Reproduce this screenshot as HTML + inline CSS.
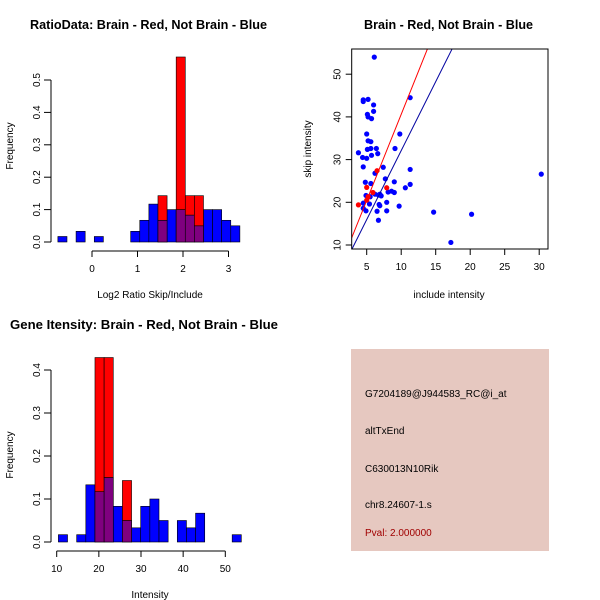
<!DOCTYPE html>
<html><head><meta charset="utf-8"><style>
body{margin:0;background:#fff}
svg{display:block;font-family:"Liberation Sans",sans-serif}
</style></head><body>
<svg id="c" width="600" height="600" viewBox="0 0 600 600" xmlns="http://www.w3.org/2000/svg">
<text x="30" y="29" font-size="12.5" font-weight="bold" textLength="237" lengthAdjust="spacingAndGlyphs">RatioData: Brain - Red, Not Brain - Blue</text>
<text x="364" y="29" font-size="12.5" font-weight="bold" textLength="169" lengthAdjust="spacingAndGlyphs">Brain - Red, Not Brain - Blue</text>
<text x="10" y="329" font-size="12.5" font-weight="bold" textLength="268" lengthAdjust="spacingAndGlyphs">Gene Itensity: Brain - Red, Not Brain - Blue</text>
<text x="150" y="298" font-size="10" text-anchor="middle">Log2 Ratio Skip/Include</text>
<text x="13" y="146" font-size="10" text-anchor="middle" transform="rotate(-90 13 146)">Frequency</text>
<text x="449" y="298" font-size="10" text-anchor="middle">include intensity</text>
<text x="311" y="149" font-size="10" text-anchor="middle" transform="rotate(-90 311 149)">skip intensity</text>
<text x="150" y="598" font-size="10" text-anchor="middle">Intensity</text>
<text x="13" y="455" font-size="10" text-anchor="middle" transform="rotate(-90 13 455)">Frequency</text>
<g>
<rect x="351" y="349" width="198" height="202" fill="#e6c8c0"/>
<text x="365" y="397" font-size="10">G7204189@J944583_RC@i_at</text>
<text x="365" y="434" font-size="10">altTxEnd</text>
<text x="365" y="472" font-size="10">C630013N10Rik</text>
<text x="365" y="508" font-size="10">chr8.24607-1.s</text>
<text x="365" y="536" font-size="10" fill="#a00000">Pval: 2.000000</text>
</g>
<g id="g1"></g><g id="g2"></g><g id="g3"></g>
</svg>
<script>
// Ratio histogram data
const ratioBinStart=-0.75, ratioBinWidth=0.2;
const ratioBlue=[0.017,0,0.033,0,0.017,0,0,0,0.033,0.067,0.117,0.067,0.1,0.1,0.083,0.05,0.1,0.1,0.067,0.05];
const ratioRed=[0,0,0,0,0,0,0,0,0,0,0,0.143,0,0.571,0.143,0.143,0,0,0,0];
const ratioXTicks=[0,1,2,3];
const ratioYTicks=[0,0.1,0.2,0.3,0.4,0.5];
// Intensity histogram data
const intBinStart=10.4, intBinWidth=2.17;
const intBlue=[0.017,0,0.017,0.133,0.117,0.15,0.083,0.05,0.033,0.083,0.1,0.05,0,0.05,0.033,0.067,0,0,0,0.017];
const intRed=[0,0,0,0,0.429,0.429,0,0.143,0,0,0,0,0,0,0,0,0,0,0,0];
const intXTicks=[10,20,30,40,50];
const intYTicks=[0,0.1,0.2,0.3,0.4];
// Scatter data
const blueX=[3.8,4.4,4.5,4.5,4.5,5.2,5,5.2,5.6,5.1,5.6,5,5.7,5.1,5.2,5.7,6,6,6.4,6.6,4.8,5.6,6.2,7.4,7.7,4.9,5.5,6.2,6.7,6.9,7.1,8.1,8.6,9,7.9,6.8,6.9,5.4,4.5,4.5,4.9,6.5,7.9,6.7,9,9.7,9.8,9.1,11.3,10.6,11.3,11.3,14.7,17.2,20.2,30.3,6.1];
const blueY=[31.6,30.5,28.3,44,43.6,44.1,36,34.4,34.2,32.4,32.6,30.3,31,40.6,40,39.6,41.3,42.8,32.6,31.4,24.7,24.4,26.8,28.2,25.5,21.6,21.3,21.9,21.7,21.9,21.5,22.4,22.6,22.3,20,19.5,19.2,19.6,19.8,18.6,18,17.9,18,15.8,24.8,19.1,36,32.6,44.5,23.4,27.7,24.2,17.7,10.6,17.2,26.6,54];
const redX=[3.8,5,5,5.2,5.9,6.5,7.9];
const redY=[19.4,23.5,20.5,21.3,22.3,27.4,23.4];
const redLine=[0.3,4.03];   // intercept, slope
const blueLine=[-0.2,3.23];
const scXTicks=[5,10,15,20,25,30];
const scYTicks=[10,20,30,40,50];

const NS='http://www.w3.org/2000/svg';
function mk(p,t,a){const e=document.createElementNS(NS,t);for(const k in a)e.setAttribute(k,a[k]);p.appendChild(e);return e;}

function hist(g,o){
  const {xs,ys,bw,bs,blue,red,xt,yt,name,ty}=o;
  blue.forEach((v,i)=>{ if(v<=0)return;
    const r=mk(g,'rect',{x:xs(bs+i*bw),y:ys(v),width:xs(bs+(i+1)*bw)-xs(bs+i*bw),height:ys(0)-ys(v),fill:'#0000ff',stroke:'#000','stroke-width':0.6});
    
    
  });
  red.forEach((v,i)=>{ if(v<=0)return;
    const ov=Math.min(v,blue[i]);
    if(ov>0){const p=mk(g,'rect',{x:xs(bs+i*bw),y:ys(ov),width:xs(bs+(i+1)*bw)-xs(bs+i*bw),height:ys(0)-ys(ov),fill:'#7f007f',stroke:'#000','stroke-width':0.6});
    
    }
    const t=mk(g,'rect',{x:xs(bs+i*bw),y:ys(v),width:xs(bs+(i+1)*bw)-xs(bs+i*bw),height:ys(ov)-ys(v),fill:'#ff0000',stroke:'#000','stroke-width':0.6});
    
    
  });
  const ax=mk(g,'line',{x1:51,x2:51,y1:ys(yt[0]),y2:ys(yt[yt.length-1]),stroke:'#000'});
  
  
  yt.forEach(v=>{mk(g,'line',{x1:44,x2:51,y1:ys(v),y2:ys(v),stroke:'#000'});
    const t=mk(g,'text',{x:0,y:0,'font-size':10,'text-anchor':'middle',transform:`translate(${40},${ys(v)}) rotate(-90)`});
    t.textContent=v.toFixed(1);
    
    });
  const bx=mk(g,'line',{x1:xs(xt[0]),x2:xs(xt[xt.length-1]),y1:ty,y2:ty,stroke:'#000'});
  
  
  xt.forEach(v=>{mk(g,'line',{x1:xs(v),x2:xs(v),y1:ty,y2:ty+6,stroke:'#000'});
    const t=mk(g,'text',{x:xs(v),y:ty+21,'font-size':10,'text-anchor':'middle'});
    t.textContent=String(v);
    
    });
}
hist(document.getElementById('g1'),{xs:v=>92+v*45.5,ys:v=>242-v*324,bw:ratioBinWidth,bs:ratioBinStart,blue:ratioBlue,red:ratioRed,xt:ratioXTicks,yt:ratioYTicks,name:'ratio',ty:251});
hist(document.getElementById('g3'),{xs:v=>56.7+(v-10)*4.215,ys:v=>542-v*430,bw:intBinWidth,bs:intBinStart,blue:intBlue,red:intRed,xt:intXTicks,yt:intYTicks,name:'intensity',ty:551});

const g2=document.getElementById('g2');
const sx=v=>366.7+(v-5)*6.9, sy=v=>245-(v-10)*4.27;
const L=351.7,R=548,T=49,B=249;
mk(g2,'clipPath',{id:'cp'}).appendChild(document.createElementNS(NS,'rect'));
const cr=g2.querySelector('#cp rect');cr.setAttribute('x',L);cr.setAttribute('y',T);cr.setAttribute('width',R-L);cr.setAttribute('height',B-T);
const pts=mk(g2,'g',{'clip-path':'url(#cp)'});
blueX.forEach((x,i)=>{const c=mk(pts,'circle',{cx:sx(x),cy:sy(blueY[i]),r:2.6,fill:'#0000ff'});
  
  });
redX.forEach((x,i)=>{const c=mk(pts,'circle',{cx:sx(x),cy:sy(redY[i]),r:2.6,fill:'#ff0000'});
  
  });
[[redLine,'#ff0000','red-fit-line'],[blueLine,'#0000a0','blue-fit-line']].forEach(([ln,col,n])=>{
  const l=mk(pts,'line',{x1:sx(0),y1:sy(ln[0]),x2:sx(40),y2:sy(ln[0]+ln[1]*40),stroke:col,'stroke-width':1});
  
  });
const box=mk(g2,'rect',{x:L,y:T,width:R-L,height:B-T,fill:'none',stroke:'#000'});


scXTicks.forEach(v=>{mk(g2,'line',{x1:sx(v),x2:sx(v),y1:B,y2:B+6,stroke:'#000'});
  const t=mk(g2,'text',{x:sx(v),y:B+21,'font-size':10,'text-anchor':'middle'});
  t.textContent=String(v);
  
  });
scYTicks.forEach(v=>{mk(g2,'line',{x1:L-6,x2:L,y1:sy(v),y2:sy(v),stroke:'#000'});
  const t=mk(g2,'text',{x:0,y:0,'font-size':10,'text-anchor':'middle',transform:`translate(${L-11},${sy(v)}) rotate(-90)`});
  t.textContent=String(v);
  
  });
</script>
</body></html>
